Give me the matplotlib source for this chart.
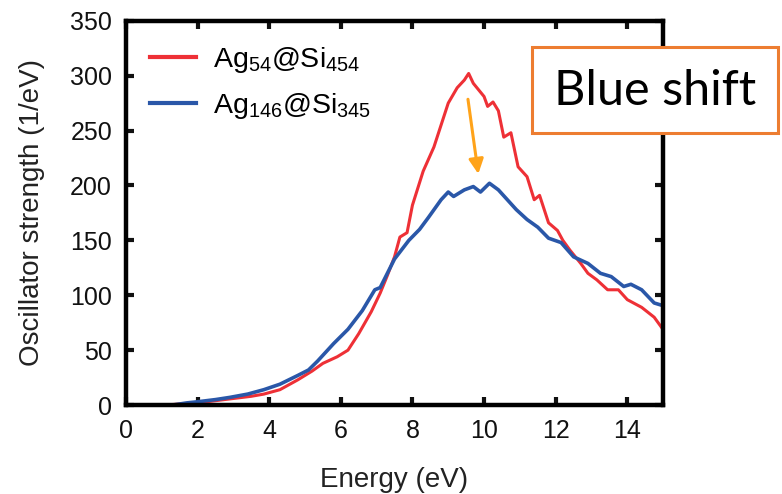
import matplotlib
matplotlib.use('Agg')
import matplotlib.pyplot as plt
from matplotlib.patches import Rectangle

plt.rcParams['font.family'] = ['Liberation Sans', 'DejaVu Sans']
plt.rcParams['mathtext.fontset'] = 'custom'
plt.rcParams['mathtext.rm'] = 'Liberation Sans'
plt.rcParams['mathtext.it'] = 'Liberation Sans'
plt.rcParams['mathtext.default'] = 'regular'

# oscillator strength spectra (energy in eV, strength in 1/eV)
e_54 = [1.1, 1.5, 2.0, 2.5, 3.0, 3.5, 3.85, 4.3, 4.8, 5.2, 5.5, 5.9, 6.2, 6.5, 6.85,
        7.1, 7.3, 7.5, 7.65, 7.85, 8.0, 8.3, 8.6, 8.8, 9.0, 9.25, 9.45, 9.57, 9.7,
        9.85, 10.0, 10.1, 10.25, 10.4, 10.55, 10.75, 10.95, 11.2, 11.4, 11.55, 11.8,
        12.05, 12.2, 12.4, 12.7, 12.9, 13.15, 13.45, 13.75, 14.0, 14.4, 14.75, 14.95]
s_54 = [0, 1, 2, 4, 6, 8, 10, 14, 23, 31, 38, 44, 50, 65, 85,
        102, 118, 135, 153, 157, 182, 213, 235, 255, 275, 289, 296, 302, 293,
        287, 281, 272, 276, 268, 244, 248, 217, 208, 187, 191, 166,
        159, 150, 141, 129, 120, 114, 105, 105, 96, 89, 80, 71]

e_146 = [1.3, 1.7, 2.0, 2.5, 2.9, 3.4, 3.85, 4.3, 4.8, 5.1, 5.35, 5.8, 6.2, 6.6, 6.95,
         7.1, 7.5, 7.9, 8.2, 8.45, 8.8, 9.0, 9.15, 9.45, 9.7, 9.9, 10.15, 10.4, 10.65,
         10.9, 11.2, 11.5, 11.8, 12.15, 12.5, 12.9, 13.25, 13.55, 13.9, 14.1, 14.4,
         14.75, 14.95]
s_146 = [0, 2, 3, 5, 7, 10, 14, 19, 27, 32, 40, 56, 69, 86, 105,
         107, 133, 150, 160, 171, 187, 194, 190, 196, 199, 194, 202, 196, 187,
         178, 169, 162, 152, 148, 135, 129, 120, 117, 108, 110, 105,
         93, 91]

xticks = [0, 2, 4, 6, 8, 10, 12, 14]
yticks = [0, 50, 100, 150, 200, 250, 300, 350]

fig = plt.figure(figsize=(7.82, 4.94), dpi=100)
ax = fig.add_axes([0.161, 0.18, 0.687, 0.778])

ax.plot(e_54, s_54, color='#ee3036', lw=2.2, label='Ag$_{54}$@Si$_{454}$')
ax.plot(e_146, s_146, color='#2a57a8', lw=2.6, label='Ag$_{146}$@Si$_{345}$')

ax.set_xlim(0, 15)
ax.set_ylim(0, 350)
ax.set_xticks(xticks)
ax.set_yticks(yticks)
ax.tick_params(direction='in', top=True, right=True, length=6, width=3,
               labelsize=18, colors='#111111', pad=10)
for sp in ax.spines.values():
    sp.set_linewidth(3.2)

ax.set_xlabel('Energy (eV)', fontsize=20, color='#222222', labelpad=17)
ax.set_ylabel('Oscillator strength (1/eV)', fontsize=20, color='#222222', labelpad=18)

leg = ax.legend(loc='upper left', frameon=False, fontsize=20.5, handlelength=1.6,
                handletextpad=0.6, labelspacing=0.55, borderaxespad=0.45,
                bbox_to_anchor=(0.0, 1.0))
for line in leg.get_lines():
    line.set_linewidth(3)

# arrow from the red peak down to the blue peak
ax.annotate('', xy=(9.85, 208), xytext=(9.54, 281),
            arrowprops=dict(arrowstyle='-|>', color='#ffa31a', lw=2.2,
                            mutation_scale=22))

fig.patches.append(Rectangle((532 / 782, 1 - 133 / 494), 246 / 782, 86 / 494,
                             transform=fig.transFigure, facecolor='white',
                             edgecolor='#ed7d31', lw=2.2, zorder=5))
fig.text(655 / 782, 1 - 91 / 494, 'Blue shift', fontsize=35, family=['Lato', 'DejaVu Sans'],
         ha='center', va='center', color='black', zorder=6)

fig.savefig('out.png', dpi=100)
